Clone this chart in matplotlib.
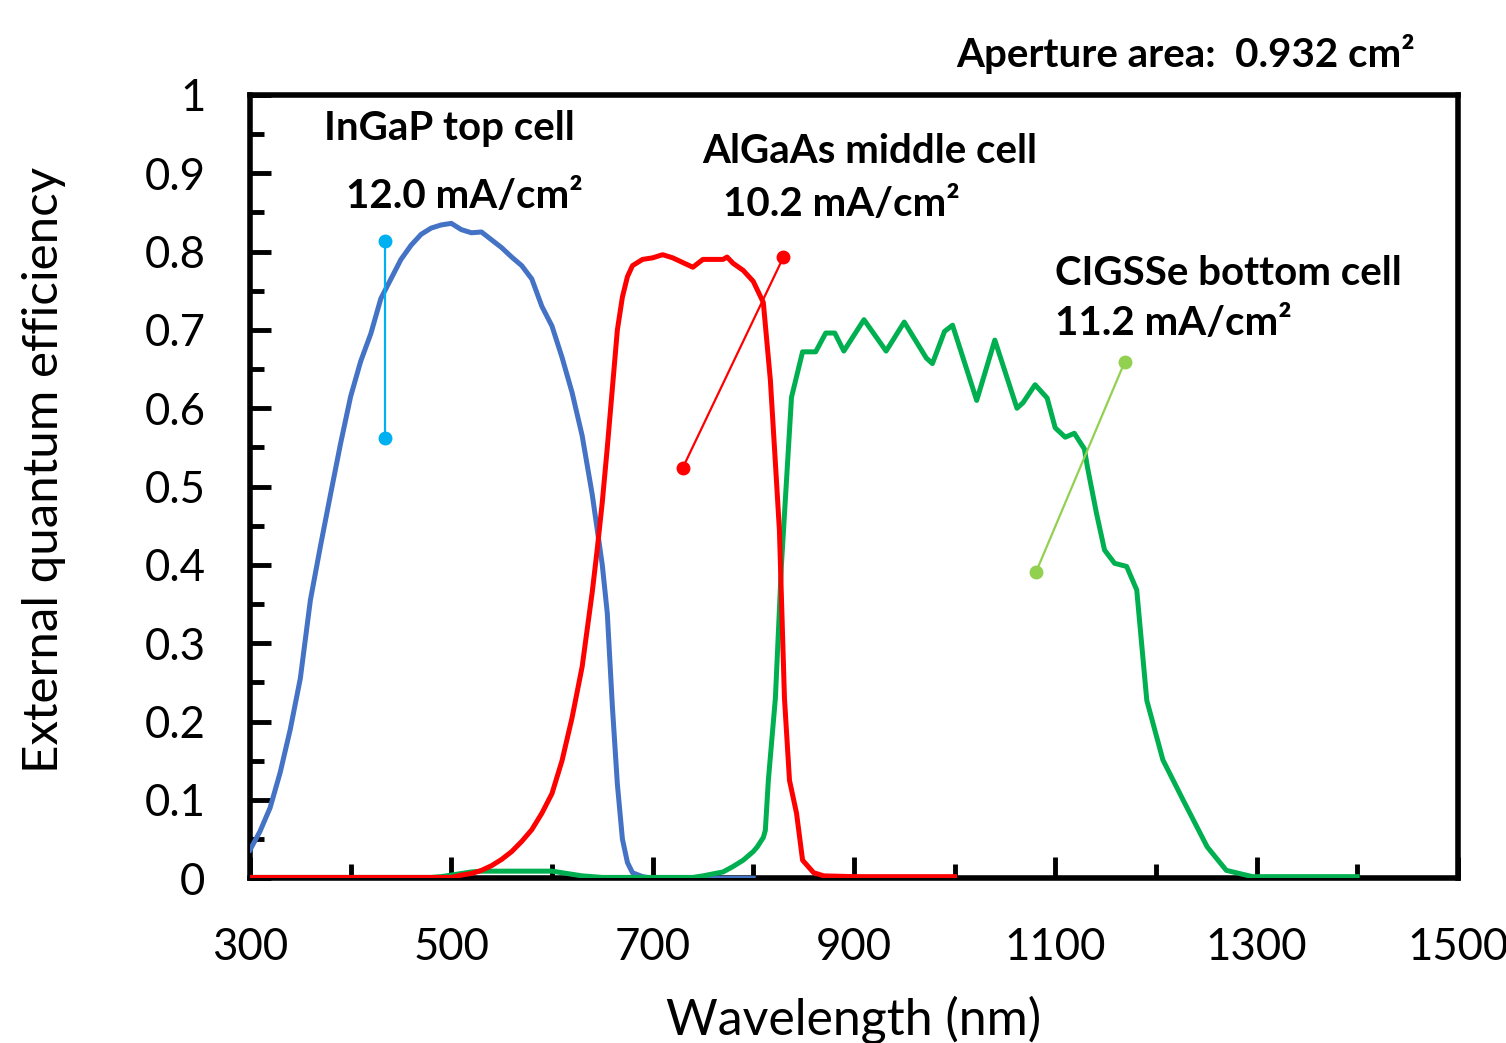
import numpy as np
import matplotlib
matplotlib.use("Agg")
import matplotlib.pyplot as plt
from matplotlib.ticker import MultipleLocator

plt.rcParams['font.family'] = ['Lato', 'DejaVu Sans']

# InGaP top cell
wl_top = [300, 310, 320, 330, 340, 350, 360, 370, 380, 390, 400, 410, 420, 430, 440,
          450, 460, 470, 480, 490, 500, 510, 520, 530, 540, 550, 560, 570, 580, 590,
          600, 610, 620, 630, 640, 650, 655, 660, 665, 670, 675, 680, 690, 700, 750, 800]
eqe_top = [0.036, 0.06, 0.09, 0.135, 0.19, 0.255, 0.355, 0.424, 0.49, 0.555, 0.615,
           0.66, 0.695, 0.74, 0.765, 0.79, 0.808, 0.822, 0.83, 0.834, 0.836, 0.828, 0.824,
           0.825, 0.815, 0.805, 0.793, 0.782, 0.765, 0.73, 0.705, 0.665, 0.62, 0.565,
           0.49, 0.40, 0.338, 0.22, 0.12, 0.05, 0.02, 0.007, 0.002, 0.0, 0.0, 0.0]

# AlGaAs middle cell
wl_mid = [300, 400, 500, 510, 520, 530, 540, 550, 560, 570, 580, 590, 600, 610, 620, 630,
          640, 645, 650, 655, 660, 665, 670, 675, 680, 690, 700, 710, 720, 730, 740, 750,
          760, 770, 774, 780, 790, 800, 810, 817, 822, 826, 831, 836, 843, 849, 860, 870,
          900, 1000]
eqe_mid = [0.001, 0.001, 0.001, 0.004, 0.006, 0.01, 0.016, 0.024, 0.034, 0.047, 0.062,
           0.083, 0.108, 0.15, 0.205, 0.27, 0.365, 0.42, 0.48, 0.55, 0.625, 0.70, 0.742,
           0.768, 0.782, 0.79, 0.792, 0.796, 0.792, 0.786, 0.78, 0.79, 0.79, 0.79, 0.793,
           0.785, 0.776, 0.762, 0.735, 0.636, 0.53, 0.444, 0.23, 0.125, 0.083, 0.023,
           0.007, 0.003, 0.002, 0.002]

# CIGSSe bottom cell
wl_bot = [300, 480, 490, 500, 510, 520, 530, 600, 610, 620, 630, 640, 650, 740, 750, 770,
          780, 790, 800, 804, 810, 812, 815, 822, 828, 838, 849, 862, 872, 881, 890, 910,
          932, 950, 972, 978, 990, 998, 1022, 1040, 1062, 1068, 1080, 1092, 1100, 1110,
          1119, 1129, 1132, 1141, 1149, 1159, 1171, 1181, 1191, 1207, 1227, 1251, 1270,
          1296, 1400]
eqe_bot = [0.001, 0.001, 0.002, 0.004, 0.006, 0.008, 0.009, 0.009, 0.007, 0.005, 0.003,
           0.002, 0.001, 0.001, 0.003, 0.008, 0.015, 0.023, 0.034, 0.04, 0.052, 0.061,
           0.125, 0.23, 0.40, 0.614, 0.672, 0.672, 0.696, 0.696, 0.673, 0.713, 0.673,
           0.71, 0.664, 0.657, 0.698, 0.706, 0.61, 0.687, 0.60, 0.607, 0.63, 0.613,
           0.575, 0.563, 0.568, 0.548, 0.525, 0.466, 0.419, 0.402, 0.398, 0.368, 0.227,
           0.151, 0.10, 0.04, 0.01, 0.002, 0.002]

# pointer lines from labels to curves
ptr_top_x, ptr_top_y = [434, 434], [0.814, 0.562]
ptr_mid_x, ptr_mid_y = [830, 730], [0.793, 0.524]
ptr_bot_x, ptr_bot_y = [1169, 1081], [0.659, 0.391]

xticks = [300, 500, 700, 900, 1100, 1300, 1500]
yticks = [0, 0.1, 0.2, 0.3, 0.4, 0.5, 0.6, 0.7, 0.8, 0.9, 1.0]
ytick_labels = ['0', '0.1', '0.2', '0.3', '0.4', '0.5', '0.6', '0.7', '0.8', '0.9', '1']

fig = plt.figure(figsize=(15.06, 10.43), dpi=100)
ax = fig.add_axes([0.166, 0.158, 0.802, 0.751])

lw = 3.6
ax.plot(wl_top, eqe_top, color='#4472C4', lw=lw, solid_joinstyle='round', zorder=3)
ax.plot(wl_bot, eqe_bot, color='#00B050', lw=lw, solid_joinstyle='round', zorder=3)
ax.plot(wl_mid, eqe_mid, color='#FF0000', lw=lw, solid_joinstyle='round', zorder=4)

ax.plot(ptr_top_x, ptr_top_y, color='#00B0F0', lw=1.6, marker='o', ms=9, zorder=5)
ax.plot(ptr_mid_x, ptr_mid_y, color='#FF0000', lw=1.6, marker='o', ms=9, zorder=5)
ax.plot(ptr_bot_x, ptr_bot_y, color='#92D050', lw=1.6, marker='o', ms=9, zorder=5)

ax.set_xlim(300, 1500)
ax.set_ylim(0, 1)
ax.set_xticks(xticks)
ax.xaxis.set_minor_locator(MultipleLocator(100))
ax.set_yticks(yticks)
ax.set_yticklabels(ytick_labels)
ax.yaxis.set_minor_locator(MultipleLocator(0.05))
ax.tick_params(which='major', direction='in', length=15, width=3.5, labelsize=31.5, pad=35)
ax.tick_params(which='minor', direction='in', length=10, width=3.5)
ax.tick_params(axis='y', pad=32)
for s in ax.spines.values():
    s.set_linewidth(4)

ax.set_xlabel('Wavelength (nm)', fontsize=36, labelpad=20)
fig.text(0.029, 0.549, 'External quantum efficiency', rotation=90, fontsize=35.5,
         ha='center', va='center')

bold = dict(fontsize=29, fontweight='bold', va='baseline', ha='left')
ax.text(374, 0.9425, 'InGaP top cell', **bold)
ax.text(395, 0.856, '12.0 mA/cm²', **bold)
ax.text(749, 0.913, 'AlGaAs middle cell', **bold)
ax.text(770, 0.845, '10.2 mA/cm²', **bold)
ax.text(1100, 0.757, 'CIGSSe bottom cell', **bold)
ax.text(1100, 0.693, '11.2 mA/cm²', **bold)
ax.text(1002, 1.036, 'Aperture area:  0.932 cm²', clip_on=False, **bold)

fig.savefig('out.png', dpi=100)
